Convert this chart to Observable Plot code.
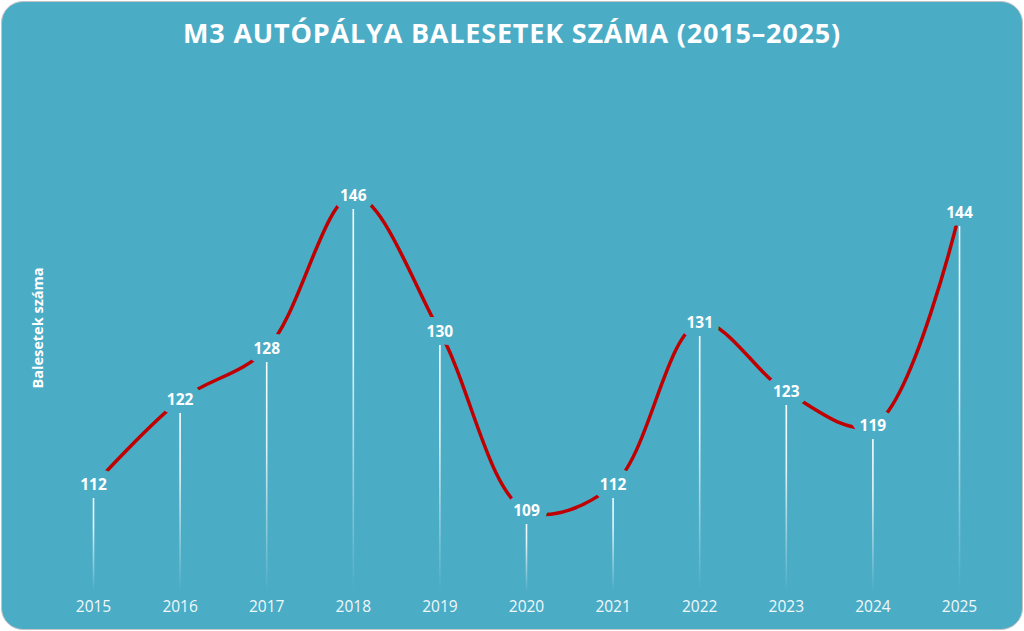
<!DOCTYPE html>
<html>
<head>
<meta charset="utf-8">
<script src="https://cdn.jsdelivr.net/npm/d3@7"></script>
<script src="https://cdn.jsdelivr.net/npm/@observablehq/plot@0.6"></script>
<style>
  html, body { margin: 0; padding: 0; background: #ffffff; }
  #wrap { position: relative; width: 1024px; height: 631px; overflow: hidden; font-family: "Open Sans", sans-serif; }
  #bg { position: absolute; left: 1px; top: 1px; width: 1020px; height: 627px; border: 1px solid #c4c4c4; border-radius: 22px; background: #4BACC6; }
  #title { position: absolute; left: 0; top: 14px; width: 1024px; text-align: center; color: #ffffff; font-weight: 700; font-size: 27px; letter-spacing: 0.8px; }
  #ylab { position: absolute; left: 37px; top: 328px; transform: translate(-50%, -50%) rotate(-90deg); color: #ffffff; font-weight: 700; font-size: 14.5px; white-space: nowrap; }
  #chart { position: absolute; left: 0; top: 0; }
</style>
</head>
<body>
<div id="wrap">
  <div id="bg"></div>
  <div id="title">M3 AUTÓPÁLYA BALESETEK SZÁMA (2015–2025)</div>
  <div id="ylab">Balesetek száma</div>
  <div id="chart"></div>
</div>
<script>
const years = [2015, 2016, 2017, 2018, 2019, 2020, 2021, 2022, 2023, 2024, 2025];
const accidents = [112, 122, 128, 146, 130, 109, 112, 131, 123, 119, 144];
const baselineValue = 101;
const yDomain = [100, 150];

const data = years.map((y, i) => ({year: y, value: accidents[i], base: baselineValue}));
const bgColor = "#4BACC6";

const plot = Plot.plot({
  width: 1024,
  height: 631,
  marginLeft: 93,
  marginRight: 65,
  marginTop: 161,
  marginBottom: 44,
  style: {background: "transparent", fontFamily: "Open Sans, sans-serif", overflow: "visible"},
  x: {domain: [2015, 2025], ticks: years, tickFormat: d => String(d), label: null},
  y: {domain: yDomain, axis: null},
  marks: [
    Plot.ruleX(data, {x: "year", y1: "base", y2: "value", stroke: "#ffffff", strokeWidth: 1.6, insetTop: 13}),
    Plot.line(data, {x: "year", y: "value", curve: "catmull-rom", stroke: "#C00000", strokeWidth: 3.5}),
    Plot.text(data, {x: "year", y: "value", text: d => String(d.value), fill: "#ffffff", stroke: bgColor, strokeWidth: 16, strokeLinejoin: "round", fontWeight: 700, fontSize: 15.5}),
    Plot.axisX({ticks: years, tickFormat: d => String(d), tickSize: 0, tickPadding: 13, fontSize: 15.5, color: "#f0f8fa", label: null})
  ]
});

document.getElementById("chart").appendChild(plot);

// vertical fade gradient for each drop line
const svg = d3.select(plot);
let defs = svg.select("defs");
if (defs.empty()) defs = svg.insert("defs", ":first-child");
svg.selectAll('g[aria-label="rule"] line').each(function(d, i) {
  const line = d3.select(this);
  const y1 = +line.attr("y1"), y2 = +line.attr("y2");
  const top = Math.min(y1, y2), bot = Math.max(y1, y2);
  const id = "fade" + i;
  const g = defs.append("linearGradient").attr("id", id)
    .attr("gradientUnits", "userSpaceOnUse")
    .attr("x1", 0).attr("x2", 0).attr("y1", top).attr("y2", bot);
  g.append("stop").attr("offset", "0").attr("stop-color", "#ffffff").attr("stop-opacity", 1);
  g.append("stop").attr("offset", "0.4").attr("stop-color", "#ffffff").attr("stop-opacity", 0.85);
  g.append("stop").attr("offset", "1").attr("stop-color", "#ffffff").attr("stop-opacity", 0);
  line.attr("stroke", `url(#${id})`);
});
</script>
</body>
</html>
